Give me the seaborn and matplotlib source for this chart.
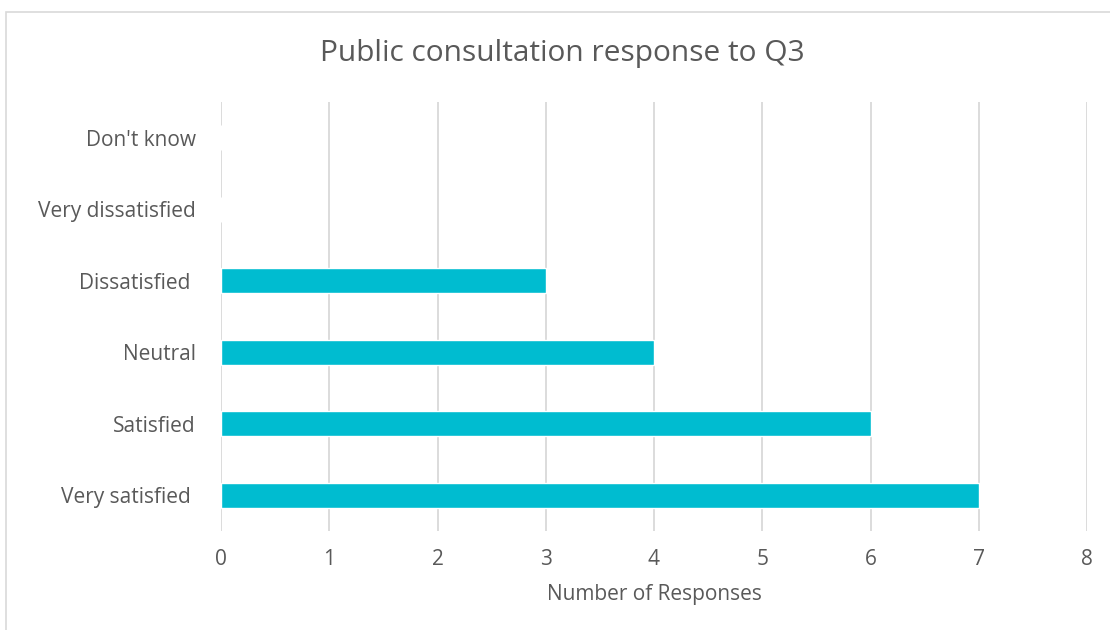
import matplotlib
matplotlib.use("Agg")
import matplotlib.pyplot as plt
from matplotlib.patches import Rectangle
import seaborn as sns
import pandas as pd

categories = ["Don't know", "Very dissatisfied", "Dissatisfied ", "Neutral", "Satisfied", "Very satisfied "]
responses = [0, 0, 3, 4, 6, 7]
x_ticks = [0, 1, 2, 3, 4, 5, 6, 7, 8]

title = "Public consultation response to Q3"
x_label = "Number of Responses"

bar_color = "#00BCD0"
text_color = "#595959"
grid_color = "#D9D9D9"

sns.set_theme(style="white")
plt.rcParams["font.family"] = ["Open Sans", "DejaVu Sans"]

df = pd.DataFrame({"category": categories, "responses": responses})

W, H = 1110, 630
fig = plt.figure(figsize=(W / 100, H / 100), dpi=100)
ax = fig.add_axes([221 / W, 1 - 531 / H, (1087 - 221) / W, (531 - 102) / H])

sns.barplot(data=df, x="responses", y="category", order=categories,
            color=bar_color, saturation=1, width=0.35, ax=ax)

ax.set_xlim(0, 8)
ax.set_xticks(x_ticks)
ax.set_xticklabels([str(t) for t in x_ticks])
ax.tick_params(axis="both", length=0, colors=text_color, labelsize=15)
ax.tick_params(axis="x", pad=13)
ax.tick_params(axis="y", pad=18)
ax.grid(axis="x", color=grid_color, linewidth=1.3)
ax.set_axisbelow(True)
for s in ax.spines.values():
    s.set_visible(False)

ax.set_ylabel("")
ax.set_xlabel(x_label, color=text_color, fontsize=15, labelpad=10)

fig.text(562 / W, 1 - 54 / H, title, ha="center", va="center",
         fontsize=21.5, color=text_color)

fig.patches.append(Rectangle((6 / W, -0.1), 1.2, 1.1 - 12 / H,
                             transform=fig.transFigure, fill=False,
                             edgecolor=grid_color, linewidth=1.2))

fig.savefig("out.png", dpi=100, facecolor="white")
